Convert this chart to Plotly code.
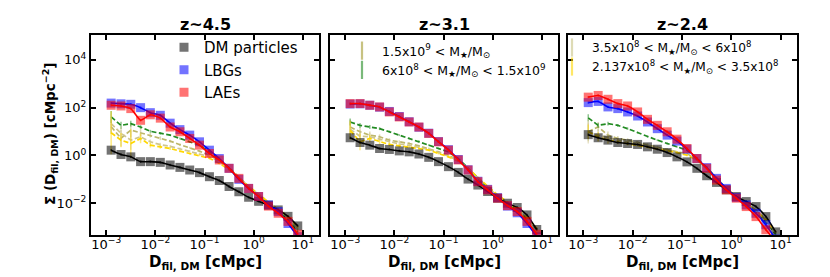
import plotly.graph_objects as go
import numpy as np

# ---------------- data ----------------
D_fil = [0.00126, 0.0020, 0.00316, 0.0050, 0.0079, 0.0126, 0.020, 0.0316, 0.050, 0.079,
         0.126, 0.20, 0.316, 0.50, 0.79, 1.26, 2.0, 3.16, 5.0, 7.9]

panel_titles = ["z~4.5", "z~3.1", "z~2.4"]

# log10 of Sigma(D_fil,DM) [cMpc^-2]
dm_log = {
    "z45": [0.22, 0.04, -0.06, -0.26, -0.26, -0.29, -0.40, -0.50, -0.61, -0.72, -0.89, -1.05, -1.30, -1.52, -1.75, -1.92, -2.08, -2.28, -2.55, -2.95],
    "z31": [0.74, 0.54, 0.43, 0.29, 0.25, 0.19, 0.15, 0.06, -0.08, -0.26, -0.47, -0.71, -0.99, -1.24, -1.51, -1.79, -2.00, -2.18, -2.49, -3.10],
    "z24": [0.87, 0.74, 0.64, 0.54, 0.50, 0.46, 0.36, 0.26, 0.12, -0.06, -0.27, -0.54, -0.85, -1.13, -1.44, -1.72, -1.93, -2.14, -2.56, -3.20],
}
lbg_log = {
    "z45": [2.19, 2.16, 2.14, 2.00, 1.79, 1.68, 1.35, 1.08, 0.85, 0.57, 0.22, -0.13, -0.54, -1.00, -1.38, -1.72, -2.07, -2.35, -2.85, -3.40],
    "z31": [2.15, 2.16, 2.10, 2.02, 1.84, 1.63, 1.41, 1.18, 0.93, 0.58, 0.24, -0.17, -0.60, -1.08, -1.42, -1.77, -2.12, -2.40, -2.85, -3.40],
    "z24": [2.21, 2.26, 2.03, 1.96, 1.82, 1.65, 1.40, 1.12, 0.85, 0.60, 0.26, -0.13, -0.51, -0.96, -1.38, -1.76, -2.07, -2.42, -2.90, -3.50],
}
lae_log = {
    "z45": [2.10, 2.07, 1.96, 1.47, 1.70, 1.56, 1.19, 0.99, 0.71, 0.43, 0.08, -0.19, -0.54, -0.96, -1.38, -1.72, -2.12, -2.42, -2.76, -3.30],
    "z31": [2.17, 2.17, 2.10, 2.03, 1.82, 1.61, 1.40, 1.19, 0.92, 0.57, 0.22, -0.19, -0.61, -1.10, -1.44, -1.79, -2.10, -2.35, -2.76, -3.30],
    "z24": [2.44, 2.51, 2.35, 2.17, 2.07, 1.82, 1.51, 1.26, 0.99, 0.68, 0.29, -0.13, -0.54, -1.03, -1.44, -1.79, -2.14, -2.56, -3.11, -3.60],
}
# stellar-mass bins (dashed lines)
bin1_log = {  # 1.5e9 < M
    "z45": [1.20, 0.72, 1.06, 0.95, 0.85, 0.72, 0.60, 0.45, 0.32, 0.18, 0.00, -0.20, -0.50, -0.90, -1.30, -1.65, -2.00, -2.30, -2.60, -3.10],
    "z31": [1.19, 0.99, 0.85, 0.78, 0.64, 0.57, 0.50, 0.40, 0.29, 0.15, 0.01, -0.19, -0.54, -0.95, -1.35, -1.70, -2.00, -2.30, -2.65, -3.10],
    "z24": [0.99, 1.20, 0.85, 0.71, 0.64, 0.54, 0.46, 0.36, 0.26, 0.15, 0.08, -0.19, -0.52, -0.95, -1.38, -1.72, -2.00, -2.30, -2.70, -3.20],
}
bin2_log = {  # 6e8 < M < 1.5e9
    "z45": [1.61, 1.26, 1.33, 1.19, 1.01, 0.92, 0.85, 0.71, 0.57, 0.43, 0.15, -0.15, -0.52, -0.95, -1.35, -1.70, -2.05, -2.35, -2.70, -3.20],
    "z31": [1.40, 1.26, 1.19, 1.12, 0.99, 0.85, 0.71, 0.60, 0.43, 0.29, 0.15, -0.13, -0.54, -0.95, -1.35, -1.70, -2.00, -2.30, -2.65, -3.10],
    "z24": [1.57, 1.26, 1.33, 1.26, 1.12, 0.96, 0.78, 0.64, 0.50, 0.36, 0.22, -0.13, -0.50, -0.95, -1.38, -1.75, -2.05, -2.40, -2.80, -3.30],
}
bin3_log = {  # 3.5e8 < M < 6e8
    "z45": [1.33, 0.92, 0.64, 0.78, 0.57, 0.45, 0.38, 0.28, 0.18, 0.08, -0.05, -0.25, -0.55, -0.92, -1.30, -1.63, -1.97, -2.27, -2.58, -3.05],
    "z31": [1.10, 0.80, 0.78, 0.68, 0.55, 0.48, 0.42, 0.34, 0.25, 0.12, -0.03, -0.22, -0.55, -0.95, -1.35, -1.70, -2.00, -2.30, -2.65, -3.10],
    "z24": [1.00, 0.85, 0.75, 0.64, 0.57, 0.50, 0.42, 0.33, 0.24, 0.14, 0.04, -0.18, -0.52, -0.95, -1.38, -1.72, -2.00, -2.30, -2.70, -3.20],
}
bin4_log = {  # 2.137e8 < M < 3.5e8
    "z45": [0.95, 0.64, 0.50, 0.71, 0.43, 0.36, 0.29, 0.18, 0.08, 0.01, -0.12, -0.33, -0.60, -0.95, -1.30, -1.62, -1.95, -2.25, -2.55, -3.00],
    "z31": [1.05, 0.57, 0.71, 0.57, 0.46, 0.40, 0.36, 0.29, 0.22, 0.08, -0.06, -0.24, -0.54, -0.92, -1.30, -1.65, -1.95, -2.25, -2.60, -3.05],
    "z24": [0.99, 0.78, 0.64, 0.57, 0.50, 0.43, 0.36, 0.29, 0.22, 0.12, 0.01, -0.19, -0.52, -0.95, -1.38, -1.72, -2.00, -2.30, -2.70, -3.20],
}
# errors in dex
main_err = [0.05] * 20
bin1_err = {"z45": [0.3, 0.35, 0.3, 0.15, 0.1, 0.08, 0.06, 0.05, 0.04, 0.04, 0.04, 0.04, 0.04, 0.04, 0.04, 0.04, 0.04, 0.04, 0.04, 0.04],
            "z31": [0.3, 0.2, 0.15, 0.1, 0.08, 0.06, 0.05, 0.04, 0.04, 0.04, 0.04, 0.04, 0.04, 0.04, 0.04, 0.04, 0.04, 0.04, 0.04, 0.04],
            "z24": [0.4, 0.2, 0.15, 0.1, 0.08, 0.06, 0.05, 0.04, 0.04, 0.04, 0.04, 0.04, 0.04, 0.04, 0.04, 0.04, 0.04, 0.04, 0.04, 0.04]}
bin2_err = {"z45": [0.25, 0.15, 0.12, 0.08, 0.06, 0.05, 0.04, 0.04, 0.04, 0.04, 0.04, 0.04, 0.04, 0.04, 0.04, 0.04, 0.04, 0.04, 0.04, 0.04],
            "z31": [0.15, 0.1, 0.08, 0.06, 0.05, 0.04, 0.04, 0.04, 0.04, 0.04, 0.04, 0.04, 0.04, 0.04, 0.04, 0.04, 0.04, 0.04, 0.04, 0.04],
            "z24": [0.15, 0.1, 0.08, 0.06, 0.05, 0.04, 0.04, 0.04, 0.04, 0.04, 0.04, 0.04, 0.04, 0.04, 0.04, 0.04, 0.04, 0.04, 0.04, 0.04]}
bin3_err = {"z45": [0.4, 0.3, 0.4, 0.15, 0.1, 0.08, 0.06, 0.05, 0.04, 0.04, 0.04, 0.04, 0.04, 0.04, 0.04, 0.04, 0.04, 0.04, 0.04, 0.04],
            "z31": [0.3, 0.25, 0.15, 0.1, 0.08, 0.06, 0.05, 0.04, 0.04, 0.04, 0.04, 0.04, 0.04, 0.04, 0.04, 0.04, 0.04, 0.04, 0.04, 0.04],
            "z24": [0.5, 0.25, 0.15, 0.1, 0.08, 0.06, 0.05, 0.04, 0.04, 0.04, 0.04, 0.04, 0.04, 0.04, 0.04, 0.04, 0.04, 0.04, 0.04, 0.04]}
bin4_err = {"z45": [0.9, 0.3, 0.6, 0.2, 0.1, 0.08, 0.06, 0.05, 0.04, 0.04, 0.04, 0.04, 0.04, 0.04, 0.04, 0.04, 0.04, 0.04, 0.04, 0.04],
            "z31": [0.4, 0.35, 0.15, 0.1, 0.08, 0.06, 0.05, 0.04, 0.04, 0.04, 0.04, 0.04, 0.04, 0.04, 0.04, 0.04, 0.04, 0.04, 0.04, 0.04],
            "z24": [0.3, 0.2, 0.15, 0.1, 0.08, 0.06, 0.05, 0.04, 0.04, 0.04, 0.04, 0.04, 0.04, 0.04, 0.04, 0.04, 0.04, 0.04, 0.04, 0.04]}

x_tickvals = [1e-3, 1e-2, 1e-1, 1e0, 1e1]
x_ticktext = ["10<sup>−3</sup>", "10<sup>−2</sup>", "10<sup>−1</sup>", "10<sup>0</sup>", "10<sup>1</sup>"]
y_tickvals = [1e-2, 1e0, 1e2, 1e4]
y_ticktext = ["10<sup>−2</sup>", "10<sup>0</sup>", "10<sup>2</sup>", "10<sup>4</sup>"]

x_title = "<b>D<sub>fil, DM</sub> [cMpc]</b>"
y_title = "<b>Σ (D<sub>fil, DM</sub>) [cMpc<sup>−2</sup>]</b>"
main_names = ["DM particles", "LBGs", "LAEs"]
bin_names = ["1.5x10<sup>9</sup> < M<sub>★</sub>/M<sub>⊙</sub>",
             "6x10<sup>8</sup> < M<sub>★</sub>/M<sub>⊙</sub> < 1.5x10<sup>9</sup>",
             "3.5x10<sup>8</sup> < M<sub>★</sub>/M<sub>⊙</sub> < 6x10<sup>8</sup>",
             "2.137x10<sup>8</sup> < M<sub>★</sub>/M<sub>⊙</sub> < 3.5x10<sup>8</sup>"]

# ---------------- styling ----------------
FONT = "DejaVu Sans"
C_DM, C_LBG, C_LAE = "#000000", "#0000ff", "#ff0000"
C_BIN = ["#bdb76b", "#228b22", "#cfc68f", "#ffd700"]
C_BIN_LEG = ["rgba(189,183,107,0.85)", "rgba(34,139,34,0.6)", "rgba(189,183,107,0.5)", "rgba(255,215,0,0.6)"]

def rgba(hexc, a):
    h = hexc.lstrip("#")
    return "rgba(%d,%d,%d,%.2f)" % (int(h[0:2], 16), int(h[2:4], 16), int(h[4:6], 16), a)

W, H = 830, 277
ml, mr, mt, mb = 83, 41, 27, 50
pw = W - ml - mr
ph = H - mt - mb
panel_px = [(83, 311), (322, 550), (560, 789)]
domains = [((a - ml) / pw, (b - ml) / pw) for a, b in panel_px]

fig = go.Figure()
keys = ["z45", "z31", "z24"]

def err_arrays(logv, err):
    v = np.power(10.0, np.array(logv))
    e = np.array(err)
    return v, v * (np.power(10.0, e) - 1), v * (1 - np.power(10.0, -e))

for p, key in enumerate(keys):
    xa = "x" if p == 0 else "x%d" % (p + 1)
    ya = "y" if p == 0 else "y%d" % (p + 1)
    # mass bins (dashed)
    for b, (bl, be) in enumerate([(bin1_log, bin1_err), (bin2_log, bin2_err), (bin3_log, bin3_err), (bin4_log, bin4_err)]):
        v, up, dn = err_arrays(bl[key], be[key])
        fig.add_trace(go.Scatter(x=D_fil, y=v, xaxis=xa, yaxis=ya, mode="lines",
                                 line=dict(color=C_BIN[b], width=1.7, dash="5px,2.5px"),
                                 error_y=dict(type="data", array=up, arrayminus=dn, color=rgba(C_BIN[b], 0.5),
                                              thickness=1.5, width=0),
                                 showlegend=False, hoverinfo="skip"))
    # main series
    for (dl, col, name) in [(dm_log, C_DM, main_names[0]), (lbg_log, C_LBG, main_names[1]), (lae_log, C_LAE, main_names[2])]:
        v, up, dn = err_arrays(dl[key], main_err)
        fig.add_trace(go.Scatter(x=D_fil, y=v, xaxis=xa, yaxis=ya, mode="markers",
                                 marker=dict(symbol="square", size=9, color=rgba(col, 0.55), line=dict(width=0)),
                                 error_y=dict(type="data", array=up, arrayminus=dn, color=rgba(col, 0.55),
                                              thickness=1.5, width=0),
                                 name=name, showlegend=(p == 0), legend="legend"))
        fig.add_trace(go.Scatter(x=D_fil, y=v, xaxis=xa, yaxis=ya, mode="lines",
                                 line=dict(color=col, width=1.6, shape="spline", smoothing=0.5),
                                 showlegend=False, hoverinfo="skip"))

# legend-only entries for mass bins (errorbar glyph)
for b in range(4):
    fig.add_trace(go.Scatter(x=[None], y=[None], xaxis="x2" if b < 2 else "x3", yaxis="y2" if b < 2 else "y3",
                             mode="markers",
                             marker=dict(symbol="line-ns-open", size=13, color=C_BIN_LEG[b],
                                         line=dict(color=C_BIN_LEG[b], width=2.2)),
                             name=bin_names[b], showlegend=True,
                             legend="legend2" if b < 2 else "legend3"))

axis_common = dict(type="log", showline=True, linewidth=2, linecolor="black", mirror="ticks",
                   ticks="inside", ticklen=5, tickwidth=1.5, tickcolor="black", showgrid=False,
                   zeroline=False, tickfont=dict(family=FONT, size=13, color="black"))

layout = dict(width=W, height=H, margin=dict(l=ml, r=mr, t=mt, b=mb),
              paper_bgcolor="white", plot_bgcolor="white",
              font=dict(family=FONT, color="black"))
for p in range(3):
    sx = "" if p == 0 else str(p + 1)
    layout["xaxis" + sx] = dict(axis_common, domain=list(domains[p]), range=[-3.31, 1.33],
                                tickvals=x_tickvals, ticktext=x_ticktext, anchor="y" + sx,
                                ticklabelstandoff=-4)
    layout["yaxis" + sx] = dict(axis_common, domain=[0, 1], range=[-3.33, 5.04],
                                tickvals=y_tickvals, ticktext=y_ticktext, anchor="x" + sx,
                                showticklabels=(p == 0))

def px2x(px):
    return (px - ml) / pw

def py2y(py):
    return 1 - (py - mt) / ph

layout["legend"] = dict(x=px2x(156), y=py2y(23), xanchor="left", yanchor="top",
                        bgcolor="rgba(0,0,0,0)", font=dict(family=FONT, size=15, color="black"),
                        itemwidth=30, tracegroupgap=0)
layout["legend2"] = dict(x=px2x(334), y=py2y(28), xanchor="left", yanchor="top",
                         bgcolor="rgba(0,0,0,0)", font=dict(family=FONT, size=12.5, color="black"),
                         itemwidth=30, tracegroupgap=0)
layout["legend3"] = dict(x=px2x(544), y=py2y(25), xanchor="left", yanchor="top",
                         bgcolor="rgba(0,0,0,0)", font=dict(family=FONT, size=12.2, color="black"),
                         itemwidth=30, tracegroupgap=0)

anns = []
for p in range(3):
    a, b = panel_px[p]
    anns.append(dict(text="<b>%s</b>" % panel_titles[p], x=px2x((a + b) / 2), y=py2y(16),
                     xref="paper", yref="paper", showarrow=False, xanchor="center", yanchor="middle",
                     font=dict(family=FONT, size=16, color="black")))
    anns.append(dict(text=x_title, x=px2x((a + b) / 2), y=py2y(254),
                     xref="paper", yref="paper", showarrow=False, xanchor="center", yanchor="middle",
                     font=dict(family=FONT, size=15, color="black")))
anns.append(dict(text=y_title, x=px2x(42), y=py2y(126), textangle=-90,
                 xref="paper", yref="paper", showarrow=False, xanchor="center", yanchor="middle",
                 font=dict(family=FONT, size=13.5, color="black")))
layout["annotations"] = anns

fig.update_layout(**layout)
fig.write_html("out.html")
